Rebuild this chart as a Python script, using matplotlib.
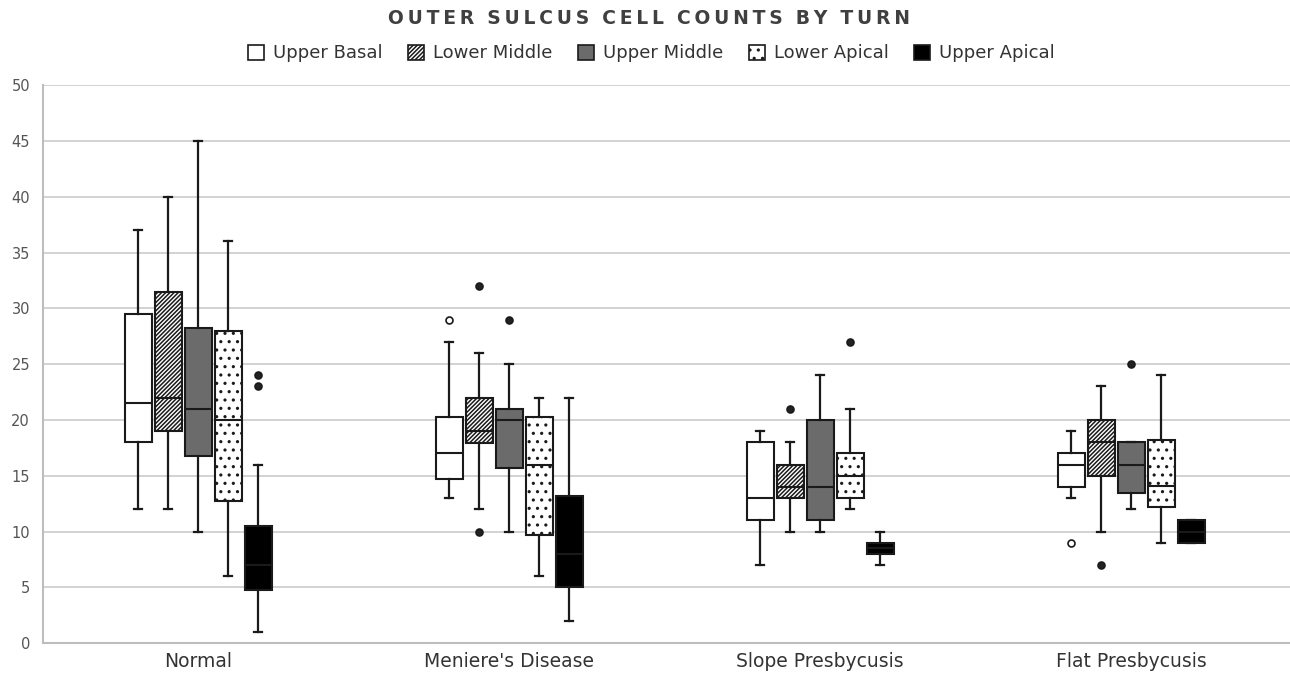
import matplotlib
matplotlib.use("Agg")
import matplotlib.pyplot as plt
from matplotlib.patches import Patch

plt.rcParams['font.family'] = ['DejaVu Sans']
plt.rcParams['hatch.linewidth'] = 1.1

groups = ["Normal", "Meniere's Disease", "Slope Presbycusis", "Flat Presbycusis"]
series = ["Upper Basal", "Lower Middle", "Upper Middle", "Lower Apical", "Upper Apical"]

# per series: [whislo, q1, med, q3, whishi] for each group
upper_basal = [[12, 18, 21.5, 29.5, 37], [13, 14.7, 17, 20.3, 27], [7, 11, 13, 18, 19], [13, 14, 16, 17, 19]]
lower_middle = [[12, 19, 22, 31.5, 40], [12, 17.9, 19, 22, 26], [10, 13, 14, 16, 18], [10, 15, 18, 20, 23]]
upper_middle = [[10, 16.8, 21, 28.2, 45], [10, 15.7, 20, 21, 25], [10, 11, 14, 20, 24], [12, 13.5, 16, 18, 18]]
lower_apical = [[6, 12.7, 20, 28, 36], [6, 9.7, 16, 20.3, 22], [12, 13, 15, 17, 21], [9, 12.2, 14.1, 18.2, 24]]
upper_apical = [[1, 4.8, 7, 10.5, 16], [2, 5, 8, 13.2, 22], [7, 8, 8.5, 9, 10], [9, 9, 10, 11, 11]]

# outliers per series and group
fliers_upper_basal = [[], [29], [], [9]]
fliers_lower_middle = [[], [32, 10], [21], [7]]
fliers_upper_middle = [[], [29], [], [25]]
fliers_lower_apical = [[], [], [27], []]
fliers_upper_apical = [[24, 23], [], [], []]

all_stats = [upper_basal, lower_middle, upper_middle, lower_apical, upper_apical]
all_fliers = [fliers_upper_basal, fliers_lower_middle, fliers_upper_middle,
              fliers_lower_apical, fliers_upper_apical]

faces = ["white", "white", "#6b6b6b", "white", "black"]
hatches = [None, "////////", None, "..", None]
flier_faces = ["white", "#222222", "#222222", "#222222", "#222222"]

fig = plt.figure(figsize=(12.9, 6.75), dpi=100)
ax = fig.add_axes([0.033, 0.047, 0.967, 0.827])

step = 0.0965
width = 0.087
for s in range(len(series)):
    stats = []
    for g in range(len(groups)):
        lo, q1, med, q3, hi = all_stats[s][g]
        stats.append(dict(whislo=lo, q1=q1, med=med, q3=q3, whishi=hi,
                          fliers=all_fliers[s][g]))
    pos = [g + (s - 2) * step for g in range(len(groups))]
    ax.bxp(stats, positions=pos, widths=width, patch_artist=True,
           showfliers=True, capwidths=0.026,
           boxprops=dict(facecolor=faces[s], edgecolor="#1a1a1a", linewidth=1.5,
                         hatch=hatches[s]),
           medianprops=dict(color="#1a1a1a", linewidth=1.5),
           whiskerprops=dict(color="#1a1a1a", linewidth=1.6),
           capprops=dict(color="#1a1a1a", linewidth=1.6),
           flierprops=dict(marker="o", markersize=5, markerfacecolor=flier_faces[s],
                           markeredgecolor="#1a1a1a", markeredgewidth=1.2),
           zorder=3)

ax.set_xlim(-0.5, 3.51)
ax.set_ylim(0, 50)
ax.set_yticks(range(0, 51, 5))
ax.set_xticks(range(len(groups)))
ax.set_xticklabels(groups, fontsize=13.5, color="#333333")
ax.tick_params(axis="y", labelsize=10.5, colors="#555555", length=0, pad=9)
ax.tick_params(axis="x", length=0, pad=6)
ax.grid(axis="y", color="#d2d2d2", linewidth=1.4)
ax.set_axisbelow(True)
for sp in ["top", "right"]:
    ax.spines[sp].set_visible(False)
ax.spines["left"].set_color("#bdbdbd")
ax.spines["left"].set_linewidth(1.5)
ax.spines["bottom"].set_color("#bdbdbd")
ax.spines["bottom"].set_linewidth(1.5)

handles = [Patch(facecolor=faces[s], edgecolor="#1a1a1a", hatch=hatches[s], linewidth=1.2)
           for s in range(len(series))]
fig.legend(handles, series, loc="center", bbox_to_anchor=(0.505, 0.921), ncol=5,
           frameon=False, fontsize=13, handlelength=0.9, handleheight=0.9,
           handletextpad=0.5, columnspacing=1.4, labelcolor="#333333")

title = "OUTER SULCUS CELL COUNTS BY TURN"
spaced = "\u2009".join(title).replace("\u2009 \u2009", "  ")
fig.text(0.503, 0.972, spaced, ha="center", va="center",
         fontsize=13.5, fontweight="bold", color="#404040")

fig.savefig("out.png", dpi=100)
